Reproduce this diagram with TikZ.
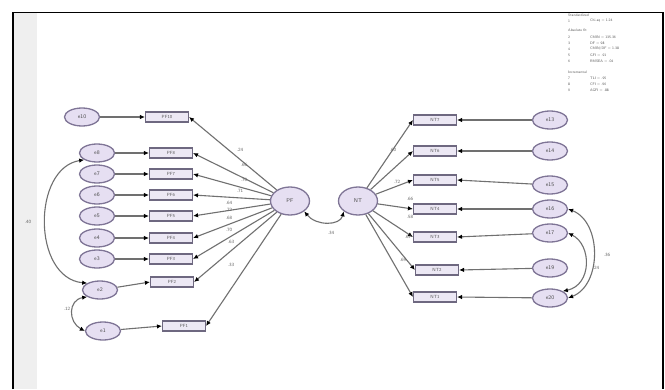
\documentclass[tikz,border=0pt]{standalone}
\usetikzlibrary{shapes.geometric,arrows.meta}
\definecolor{ellf}{HTML}{E6DFF2}
\definecolor{ellc}{HTML}{7F7596}
\definecolor{rectf}{HTML}{ECE8F4}
\definecolor{rectc}{HTML}{6E6880}
\definecolor{linec}{HTML}{707070}
\definecolor{strip}{HTML}{EFEFEF}
\tikzset{
  err/.style={ellipse, draw=ellc, fill=ellf, line width=1.3pt, minimum width=35pt,
    minimum height=18pt, inner sep=0pt, font=\sffamily\fontsize{5.5}{5.5}\selectfont, text=black!70},
  lat/.style={ellipse, draw=ellc, fill=ellf, line width=1.3pt, minimum width=39pt,
    minimum height=28pt, inner sep=0pt, font=\sffamily\fontsize{5.5}{5.5}\selectfont, text=black!70},
  obs/.style={rectangle, draw=rectc, fill=rectf, line width=1.1pt, minimum width=43pt,
    minimum height=10pt, inner sep=0pt, font=\sffamily\fontsize{4.5}{4.5}\selectfont, text=black!65},
  pth/.style={draw=linec, line width=1.1pt, -{Latex[length=5pt,width=4.5pt,black]}},
  cov/.style={draw=linec, line width=1.1pt, {Latex[length=5pt,width=4.5pt,black]}-{Latex[length=5pt,width=4.5pt,black]}},
  lbl/.style={font=\sffamily\fontsize{4.8}{4.8}\selectfont, text=black!60, inner sep=0.5pt},
  leg/.style={font=\sffamily\fontsize{3.6}{3.6}\selectfont, text=black!65, inner sep=0pt, anchor=west}
}
\begin{document}
\begin{tikzpicture}[x=1pt,y=-1pt]
\useasboundingbox (0,0) rectangle (665,389);
\fill[white] (0,0) rectangle (665,389);
% frame and grey margin strip
\fill[strip] (14,13) rectangle (37,389);
\draw[black, line width=1.3pt] (13,389) -- (13,12.5) -- (663,12.5) -- (663,389);

% fit summary block
\node[leg] (lh1) at (568,15) {Standardized};
\node[leg] (l11) at (568,21) {1};
\node[leg] (l12) at (590,21) {Chi-sq = 1.24};
\node[leg] (lh2) at (568,30) {Absolute fit};
\node[leg] (l21) at (568,37) {2};
\node[leg] (l22) at (590,37) {CMIN = 135.36};
\node[leg] (l23) at (568,43) {3};
\node[leg] (l24) at (590,43) {DF = 98};
\node[leg] (l25) at (568,49) {4};
\node[leg] (l26) at (590,49) {CMIN/DF = 1.38};
\node[leg] (l27) at (568,55) {5};
\node[leg] (l28) at (590,55) {GFI = .91};
\node[leg] (l29) at (568,61) {6};
\node[leg] (l2a) at (590,61) {RMSEA = .04};
\node[leg] (lh3) at (568,72) {Incremental};
\node[leg] (l31) at (568,78) {7};
\node[leg] (l32) at (590,78) {TLI = .95};
\node[leg] (l33) at (568,84) {8};
\node[leg] (l34) at (590,84) {CFI = .96};
\node[leg] (l35) at (568,90) {9};
\node[leg] (l36) at (590,90) {AGFI = .88};

% latent factors
\node[lat] (PF) at (290,201) {PF};
\node[lat] (NT) at (358,201) {NT};

% left indicators
\node[obs] (p10) at (167,117) {PF10};
\node[obs] (p8) at (171,153) {PF8};
\node[obs] (p7) at (171,174) {PF7};
\node[obs] (p6) at (171,195) {PF6};
\node[obs] (p5) at (171,216) {PF5};
\node[obs] (p4) at (171,238) {PF4};
\node[obs] (p3) at (171,259) {PF3};
\node[obs] (p2) at (172,282) {PF2};
\node[obs] (p1) at (184,326) {PF1};

\node[err] (e10) at (82,117) {e10};
\node[err] (e8) at (97,153) {e8};
\node[err] (e7) at (97,174) {e7};
\node[err] (e6) at (97,195) {e6};
\node[err] (e5) at (97,216) {e5};
\node[err] (e4) at (97,238) {e4};
\node[err] (e3) at (97,259) {e3};
\node[err] (e2) at (100,290) {e2};
\node[err] (e1) at (103,331) {e1};

% right indicators
\node[obs] (n7) at (435,120) {NT7};
\node[obs] (n6) at (435,151) {NT6};
\node[obs] (n5) at (435,180) {NT5};
\node[obs] (n4) at (435,209) {NT4};
\node[obs] (n3) at (435,237) {NT3};
\node[obs] (n2) at (437,270) {NT2};
\node[obs] (n1) at (435,297) {NT1};

\node[err] (e13) at (550,120) {e13};
\node[err] (e14) at (550,151) {e14};
\node[err] (e15) at (550,185) {e15};
\node[err] (e16) at (550,209) {e16};
\node[err] (e17) at (550,233) {e17};
\node[err] (e19) at (550,268) {e19};
\node[err] (e20) at (550,298) {e20};

% error terms into left indicators
\foreach \e/\p in {e10/p10,e8/p8,e7/p7,e6/p6,e5/p5,e4/p4,e3/p3,e2/p2,e1/p1}
  \draw[pth] (\e) -- (\p.west);
% loadings of PF
\foreach \p in {p10,p8,p7,p6,p5,p4,p3,p2,p1}
  \draw[pth] (PF) -- (\p.east);

% error terms into right indicators
\foreach \e/\n in {e13/n7,e14/n6,e15/n5,e16/n4,e17/n3,e19/n2,e20/n1}
  \draw[pth] (\e) -- (\n.east);
% loadings of NT
\foreach \n in {n7,n6,n5,n4,n3,n2,n1}
  \draw[pth] (NT) -- (\n.west);

% loading estimates
\node[lbl] (a10) at (240,150) {.24};
\node[lbl] (a8) at (244,165) {.66};
\node[lbl] (a7) at (244,180) {.70};
\node[lbl] (a6) at (240,191) {.71};
\node[lbl] (a5) at (229,203) {.64};
\node[lbl] (a4) at (229,210) {.72};
\node[lbl] (a3) at (229,218) {.68};
\node[lbl] (a2) at (229,230) {.70};
\node[lbl] (a1) at (231,242) {.63};
\node[lbl] (a0) at (231,265) {.33};

\node[lbl] (b7) at (393,150) {.60};
\node[lbl] (b6) at (397,182) {.72};
\node[lbl] (b5) at (410,199) {.66};
\node[lbl] (b4) at (410,217) {.58};
\node[lbl] (b3) at (408,237) {.67};
\node[lbl] (b2) at (403,260) {.69};

% covariances
\draw[cov] (PF.south east) .. controls (316,226) and (340,226) .. (NT.south west);
\node[lbl] (cPN) at (331,233) {.34};

\draw[cov] (e8.south west) .. controls (32,168) and (32,278) .. (e2.north west);
\node[lbl] (c82) at (28,222) {.40};

\draw[cov] (e2.south west) .. controls (68,300) and (68,322) .. (e1.west);
\node[lbl] (c21) at (67,309) {.12};

\draw[cov] (e16.east) .. controls (602,222) and (602,285) .. (e20.east);
\node[lbl] (c1620) at (607,255) {.36};

\draw[cov] (e17.east) .. controls (592,245) and (592,285) .. (e20.north east);
\node[lbl] (c1720) at (596,268) {.24};
\end{tikzpicture}
\end{document}
